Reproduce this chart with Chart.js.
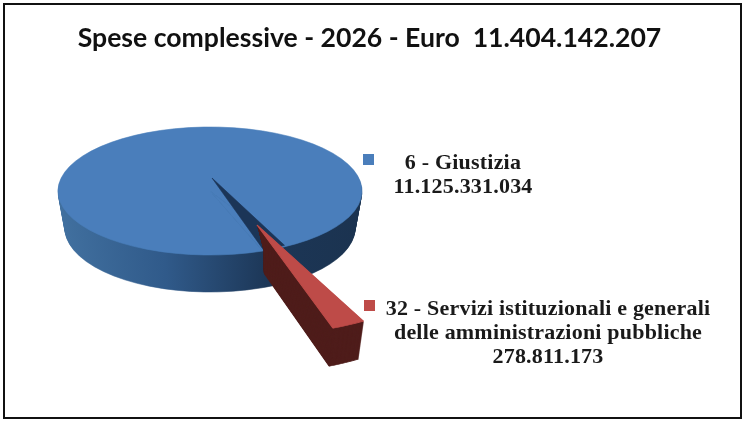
<!DOCTYPE html>
<html>
<head>
<meta charset="utf-8">
<style>
  html, body { margin: 0; padding: 0; background: #fff; }
  #frame { position: absolute; left: 3px; top: 3px; width: 735px; height: 412px; border: 2px solid #111; }
  #pie { position: absolute; left: 0; top: 0; }
  .legend-box { position: absolute; width: 11px; height: 11px; }
  .legend-text {
    position: absolute; text-align: center; color: #1a1a1a; white-space: nowrap;
    font: bold 22px/24px "Liberation Serif", serif; letter-spacing: 0.2px;
  }
</style>
<script src="https://cdn.jsdelivr.net/npm/chart.js@4"></script>
</head>
<body>
<div id="frame"></div>
<canvas id="pie" width="744" height="422"></canvas>
<script>
const categories = [
  ["6 - Giustizia"],
  ["32 - Servizi istituzionali e generali", "delle amministrazioni pubbliche"],
];
const spese = [11125331034, 278811173];
const topColors = ["#4a7ebb", "#be4b48"];
const year = 2026;

const fmt = (n) => String(n).replace(/\B(?=(\d{3})+$)/g, ".");
const totale = spese.reduce((a, b) => a + b, 0);

// Chart.js has no 3D pie, so the flat slices get squashed through these views
const discView = { x: 210, y: 191, rx: 152, ry: 64, depth: 37, shrink: 0.955 };
const gapView = { x: 212, y: 178, rx: 149, ry: 77 };
const sliceView = { x: 257, y: 225, rx: 219, ry: 110, depth: 38, shrink: 0.95 };

const paintArc = (ctx, arc, fill, view, down = 0, shrink = 1) => {
  const R = arc.outerRadius;
  const saved = arc.options;
  arc.options = Object.assign({}, saved, { backgroundColor: fill, borderColor: fill, borderWidth: 1 });
  ctx.save();
  ctx.translate(view.x, view.y + down);
  ctx.scale((view.rx / R) * shrink, view.ry / R);
  ctx.translate(-arc.x, -arc.y);
  arc.draw(ctx);
  ctx.restore();
  arc.options = saved;
};

const pie3d = {
  id: "pie3d",
  beforeDatasetsDraw(chart) {
    const ctx = chart.ctx;
    const [blue, red] = chart.getDatasetMeta(0).data;
    const R = blue.outerRadius;

    const wall = ctx.createLinearGradient(blue.x - R, 0, blue.x + R, 0);
    wall.addColorStop(0, "#41709f");
    wall.addColorStop(0.35, "#305a8a");
    wall.addColorStop(0.7, "#1c3656");
    wall.addColorStop(1, "#1b3350");

    for (let d = discView.depth; d > 0; d--) {
      const s = 1 - (1 - discView.shrink) * (d / discView.depth);
      paintArc(ctx, blue, wall, discView, d, s);
      paintArc(ctx, red, wall, discView, d, s);
    }
    paintArc(ctx, blue, topColors[0], discView);
    paintArc(ctx, red, topColors[0], discView);
    paintArc(ctx, red, "#1b3557", gapView);

    // the side of the red slice disappears behind the front edge of the gap
    const edgeX = gapView.x + gapView.rx * Math.cos(red.endAngle);
    const edgeY = gapView.y + gapView.ry * Math.sin(red.endAngle);
    ctx.save();
    ctx.beginPath();
    ctx.moveTo(sliceView.x, sliceView.y);
    ctx.lineTo(edgeX, edgeY);
    ctx.lineTo(edgeX, chart.height);
    ctx.lineTo(chart.width, chart.height);
    ctx.lineTo(chart.width, 0);
    ctx.lineTo(sliceView.x, 0);
    ctx.closePath();
    ctx.clip();
    for (let d = sliceView.depth; d > 0; d--) {
      const s = 1 - (1 - sliceView.shrink) * (d / sliceView.depth);
      paintArc(ctx, red, "#4f1d1b", sliceView, d, s);
    }
    ctx.restore();
    paintArc(ctx, red, topColors[1], sliceView);
    return false;
  },
};

new Chart(document.getElementById("pie"), {
  type: "pie",
  plugins: [pie3d],
  data: {
    labels: categories.map((c) => c.join(" ")),
    datasets: [{ data: spese, backgroundColor: topColors, borderWidth: 0 }],
  },
  options: {
    responsive: false,
    animation: false,
    devicePixelRatio: 1,
    rotation: 159.7,
    layout: { padding: { right: 5 } },
    plugins: {
      tooltip: { enabled: false },
      legend: { display: false },
      title: {
        display: true,
        text: `Spese complessive - ${year} - Euro  ${fmt(totale)}`,
        color: "#111",
        font: { family: "Lato", size: 26.6, weight: "bold" },
        padding: { top: 22, bottom: 10 },
      },
    },
  },
});

// legend is plain html, the entries are centred blocks next to a small square
const legendPos = [
  { box: [363, 154], centre: 463, top: 150 },
  { box: [364, 300], centre: 548, top: 296 },
];
categories.forEach((lines, i) => {
  const box = document.createElement("div");
  box.className = "legend-box";
  box.style.left = legendPos[i].box[0] + "px";
  box.style.top = legendPos[i].box[1] + "px";
  box.style.background = topColors[i];
  document.body.appendChild(box);

  const label = document.createElement("div");
  label.className = "legend-text";
  label.style.left = legendPos[i].centre + "px";
  label.style.top = legendPos[i].top + "px";
  label.style.transform = "translateX(-50%)";
  label.innerHTML = [...lines, fmt(spese[i])].join("<br>");
  document.body.appendChild(label);
});
</script>
</body>
</html>
